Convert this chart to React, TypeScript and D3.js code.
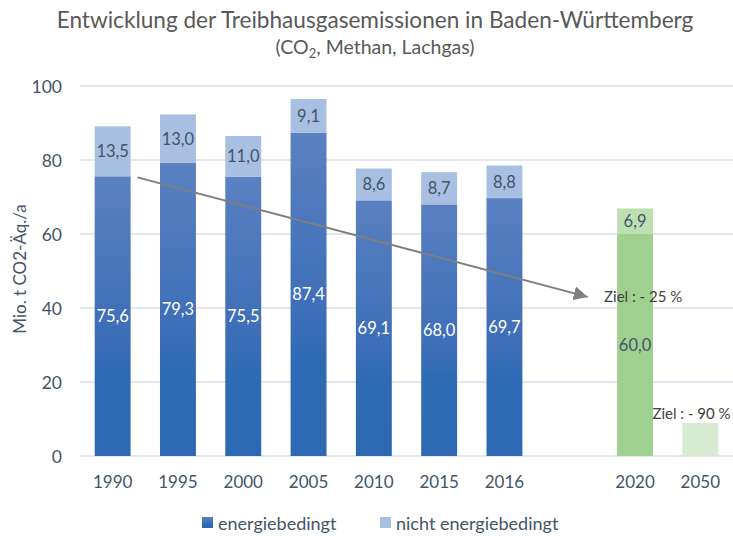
import { useRef, useEffect } from "react";
import * as d3 from "d3";

// categories ("" is the empty slot between 2016 and the targets)
const years = ["1990", "1995", "2000", "2005", "2010", "2015", "2016", "", "2020", "2050"];
const energy = [75.6, 79.3, 75.5, 87.4, 69.1, 68.0, 69.7, null, 60.0, 8.9];
const nonEnergy = [13.5, 13.0, 11.0, 9.1, 8.6, 8.7, 8.8, null, 6.9, null];
const yTicks = [0, 20, 40, 60, 80, 100];
const targetYears = ["2020", "2050"];

const fmt = (v: number) => v.toFixed(1).replace(".", ",");

export default function App() {
  const svgRef = useRef<SVGSVGElement>(null);

  useEffect(() => {
    if (!svgRef.current) return;
    const width = 733;
    const height = 536;
    const marginLeft = 80;
    const marginRight = 0;

    const svg = d3.select(svgRef.current);
    svg.selectAll("*").remove();
    svg.attr("width", width).attr("height", height);

    const font = "Lato, sans-serif";
    const axisColor = "#44546a";

    const defs = svg.append("defs");
    const grad = defs.append("linearGradient")
      .attr("id", "blueGrad")
      .attr("x1", 0).attr("y1", 1).attr("x2", 0).attr("y2", 0);
    grad.append("stop").attr("offset", "0").attr("stop-color", "#2d69b3");
    grad.append("stop").attr("offset", "0.3").attr("stop-color", "#2f6bb5");
    grad.append("stop").attr("offset", "0.4").attr("stop-color", "#3b6db7");
    grad.append("stop").attr("offset", "1").attr("stop-color", "#5a80c1");

    const x = d3.scaleBand()
      .domain(years)
      .range([marginLeft, width - marginRight])
      .paddingInner(0.45)
      .paddingOuter(0.225);

    const y = d3.scaleLinear().domain([0, 100]).range([456, 86]);

    // Title
    svg.append("text")
      .attr("x", 375).attr("y", 28)
      .attr("text-anchor", "middle")
      .attr("fill", "#595959")
      .attr("font-family", font)
      .attr("font-size", "22.6px")
      .text("Entwicklung der Treibhausgasemissionen in Baden-Württemberg");

    const sub = svg.append("text")
      .attr("x", 375).attr("y", 54)
      .attr("text-anchor", "middle")
      .attr("fill", "#595959")
      .attr("font-family", font)
      .attr("font-size", "19.5px");
    sub.append("tspan").text("(CO");
    sub.append("tspan").attr("font-size", "13px").attr("dy", 4).text("2");
    sub.append("tspan").attr("dy", -4).text(", Methan, Lachgas)");

    // Gridlines and y labels
    svg.selectAll(".grid")
      .data(yTicks)
      .join("line")
      .attr("x1", marginLeft).attr("x2", width)
      .attr("y1", (d) => y(d)).attr("y2", (d) => y(d))
      .attr("stroke", "#d9e1ed")
      .attr("stroke-width", 1.5);

    svg.selectAll(".ylab")
      .data(yTicks)
      .join("text")
      .attr("x", 62)
      .attr("y", (d) => y(d))
      .attr("text-anchor", "end")
      .attr("dominant-baseline", "central")
      .attr("fill", axisColor)
      .attr("font-family", font)
      .attr("font-size", "17.5px")
      .text((d) => d);

    svg.append("text")
      .attr("transform", `translate(19, ${y(50) - 2}) rotate(-90)`)
      .attr("text-anchor", "middle")
      .attr("dominant-baseline", "central")
      .attr("fill", axisColor)
      .attr("font-family", font)
      .attr("font-size", "17px")
      .text("Mio. t CO2-Äq./a");

    // x labels
    svg.selectAll(".xlab")
      .data(years.filter((d) => d !== ""))
      .join("text")
      .attr("x", (d) => (x(d) || 0) + x.bandwidth() / 2)
      .attr("y", 488)
      .attr("text-anchor", "middle")
      .attr("fill", axisColor)
      .attr("font-family", font)
      .attr("font-size", "17px")
      .text((d) => d);

    const rows = years.map((yr, i) => ({ yr, e: energy[i], n: nonEnergy[i] }))
      .filter((d) => d.e !== null) as { yr: string; e: number; n: number | null }[];

    const isTarget = (yr: string) => targetYears.includes(yr);
    const bottomFill = (yr: string) =>
      yr === "2050" ? "#d6ebd0" : yr === "2020" ? "#9fd08f" : "url(#blueGrad)";
    const topFill = (yr: string) => (isTarget(yr) ? "#bde0b2" : "#a7bfe1");

    // energy bars
    svg.selectAll(".bar-e")
      .data(rows)
      .join("rect")
      .attr("x", (d) => x(d.yr) || 0)
      .attr("y", (d) => y(d.e))
      .attr("width", x.bandwidth())
      .attr("height", (d) => y(0) - y(d.e))
      .attr("fill", (d) => bottomFill(d.yr));

    // non-energy bars
    const withTop = rows.filter((d) => d.n !== null) as { yr: string; e: number; n: number }[];
    svg.selectAll(".bar-n")
      .data(withTop)
      .join("rect")
      .attr("x", (d) => x(d.yr) || 0)
      .attr("y", (d) => y(d.e + d.n))
      .attr("width", x.bandwidth())
      .attr("height", (d) => y(d.e) - y(d.e + d.n))
      .attr("fill", (d) => topFill(d.yr));

    // value labels
    svg.selectAll(".lab-e")
      .data(rows.filter((d) => d.yr !== "2050"))
      .join("text")
      .attr("x", (d) => (x(d.yr) || 0) + x.bandwidth() / 2)
      .attr("y", (d) => y(d.e / 2))
      .attr("text-anchor", "middle")
      .attr("dominant-baseline", "central")
      .attr("fill", (d) => (isTarget(d.yr) ? axisColor : "#ffffff"))
      .attr("font-family", font)
      .attr("font-size", "16.5px")
      .text((d) => fmt(d.e));

    svg.selectAll(".lab-n")
      .data(withTop)
      .join("text")
      .attr("x", (d) => (x(d.yr) || 0) + x.bandwidth() / 2)
      .attr("y", (d) => y(d.e + d.n / 2))
      .attr("text-anchor", "middle")
      .attr("dominant-baseline", "central")
      .attr("fill", axisColor)
      .attr("font-family", font)
      .attr("font-size", "16.5px")
      .text((d) => fmt(d.n));

    // trend arrow
    defs.append("marker")
      .attr("id", "arrow")
      .attr("viewBox", "0 0 10 10")
      .attr("refX", 10).attr("refY", 5)
      .attr("markerWidth", 7).attr("markerHeight", 7)
      .attr("markerUnits", "strokeWidth")
      .attr("orient", "auto")
      .append("path")
      .attr("d", "M0,0 L10,5 L0,10 Z")
      .attr("fill", "#7f7f7f");

    const x0 = (x("1990") || 0) + x.bandwidth() + 7;
    const x1 = (x("") || 0) + x.bandwidth();
    svg.append("line")
      .attr("x1", x0).attr("y1", y(75.3))
      .attr("x2", x1).attr("y2", y(43.0))
      .attr("stroke", "#7f7f7f")
      .attr("stroke-width", 2)
      .attr("marker-end", "url(#arrow)");

    // target labels
    svg.append("text")
      .attr("x", (x("2020") || 0) - 13)
      .attr("y", y(41.5))
      .attr("fill", "#404040")
      .attr("font-family", font)
      .attr("font-size", "15px")
      .text("Ziel : - 25 %");

    svg.append("text")
      .attr("x", (x("2050") || 0) - 30)
      .attr("y", y(10))
      .attr("fill", "#404040")
      .attr("font-family", font)
      .attr("font-size", "15px")
      .text("Ziel : - 90 %");

    // legend
    const legend = [
      { label: "energiebedingt", fill: "url(#blueGrad)", x: 202 },
      { label: "nicht energiebedingt", fill: "#a7bfe1", x: 380 },
    ];
    const lg = svg.selectAll(".legend")
      .data(legend)
      .join("g")
      .attr("transform", (d) => `translate(${d.x}, 517)`);
    lg.append("rect").attr("width", 11).attr("height", 11).attr("fill", (d) => d.fill);
    lg.append("text")
      .attr("x", 16).attr("y", 6)
      .attr("dominant-baseline", "central")
      .attr("fill", axisColor)
      .attr("font-family", font)
      .attr("font-size", "18px")
      .text((d) => d.label);
  }, []);

  return (
    <div style={{ position: "absolute", left: 0, top: 0, background: "#fff" }}>
      <svg ref={svgRef} style={{ display: "block" }} />
    </div>
  );
}
